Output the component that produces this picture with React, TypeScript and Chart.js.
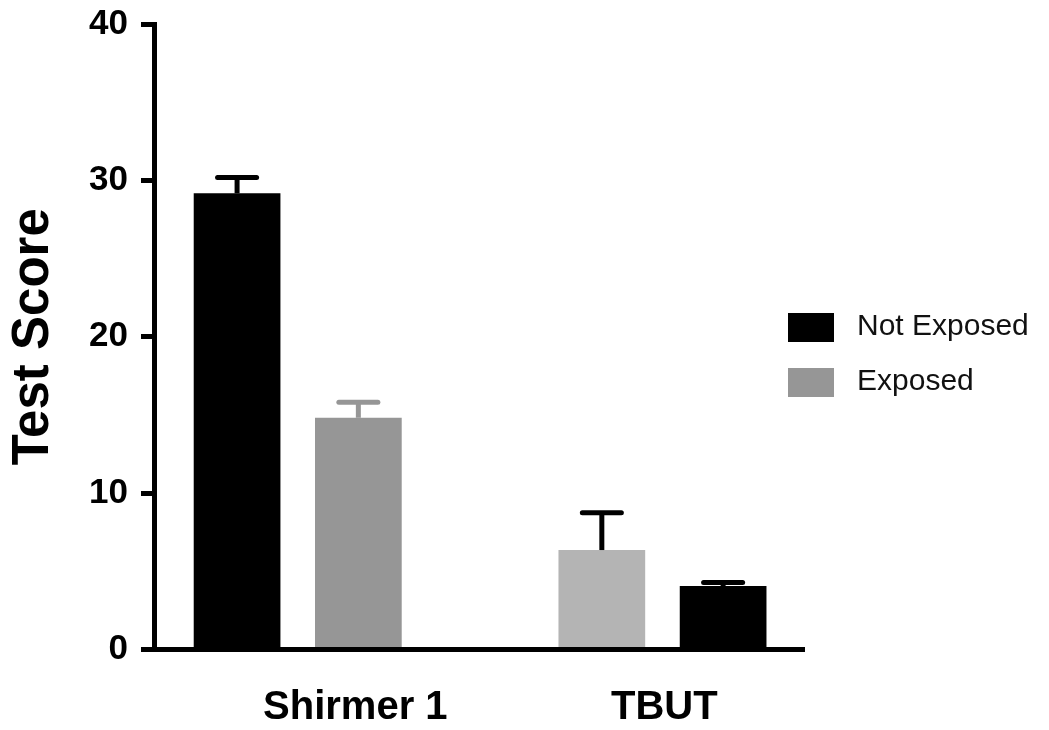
import React, { useEffect, useRef } from 'react';
import { Chart, registerables } from 'chart.js';

Chart.register(...registerables);

// ---- data ----
const categories = ['Shirmer 1', 'TBUT'];
const seriesNames = ['Not Exposed', 'Exposed'];
const notExposedValues = [29.17, 6.36];
const notExposedErrors = [1.02, 2.39];
const exposedValues = [14.82, 4.06];
const exposedErrors = [0.99, 0.23];
const yTickValues = [0, 10, 20, 30, 40];

// ---- styles ----
const FONT = '"Liberation Sans", Arial, Helvetica, sans-serif';
const notExposedColors = ['#000000', '#b4b4b4'];
const exposedColors = ['#969696', '#000000'];
const notExposedErrColors = ['#000000', '#000000'];
const exposedErrColors = ['#969696', '#000000'];
const X_MIN = -0.394;
const X_MAX = 1.388;
const labelPositions = [0.158, 1.005];

const errorBarPlugin = {
  id: 'errorBars',
  afterDatasetsDraw(chart: any) {
    const ctx = chart.ctx;
    const yScale = chart.scales.y;
    chart.data.datasets.forEach((ds: any, di: number) => {
      const meta = chart.getDatasetMeta(di);
      meta.data.forEach((bar: any, i: number) => {
        const v = ds.data[i].y;
        const e = ds.errors[i];
        const yTop = yScale.getPixelForValue(v + e);
        const x = bar.x;
        const y0 = bar.y;
        const half = bar.width * 0.225;
        ctx.save();
        ctx.strokeStyle = ds.errorColors[i];
        ctx.lineWidth = 5;
        ctx.lineCap = 'butt';
        ctx.beginPath();
        ctx.moveTo(x, y0);
        ctx.lineTo(x, yTop);
        ctx.stroke();
        ctx.lineCap = 'round';
        ctx.beginPath();
        ctx.moveTo(x - half, yTop);
        ctx.lineTo(x + half, yTop);
        ctx.stroke();
        ctx.restore();
      });
    });
  },
};

const legendPlugin = {
  id: 'sideLegend',
  afterDraw(chart: any) {
    const ctx = chart.ctx;
    const area = chart.chartArea;
    const boxX = area.right - 16;
    let y = area.top + 289;
    ctx.save();
    chart.data.datasets.forEach((ds: any) => {
      ctx.fillStyle = ds.backgroundColor[0];
      ctx.fillRect(boxX, y, 46, 29);
      ctx.fillStyle = '#111111';
      ctx.font = `30px ${FONT}`;
      ctx.textBaseline = 'middle';
      ctx.textAlign = 'left';
      ctx.fillText(ds.label, boxX + 69, y + 14);
      y += 55;
    });
    ctx.restore();
  },
};

export default function App() {
  const canvasRef = useRef<HTMLCanvasElement | null>(null);

  useEffect(() => {
    if (!canvasRef.current) return;
    const chart = new Chart(canvasRef.current, {
      type: 'bar',
      data: {
        datasets: [
          {
            label: seriesNames[0],
            data: notExposedValues.map((v, i) => ({ x: i, y: v })),
            backgroundColor: notExposedColors,
            errors: notExposedErrors,
            errorColors: notExposedErrColors,
            borderWidth: 0,
          } as any,
          {
            label: seriesNames[1],
            data: exposedValues.map((v, i) => ({ x: i, y: v })),
            backgroundColor: exposedColors,
            errors: exposedErrors,
            errorColors: exposedErrColors,
            borderWidth: 0,
          } as any,
        ],
      },
      options: {
        responsive: false,
        animation: false,
        devicePixelRatio: 1,
        categoryPercentage: 0.665,
        barPercentage: 0.715,
        layout: { padding: { top: 24, bottom: 2.5, left: 0, right: 245 } },
        plugins: {
          legend: { display: false },
          tooltip: { enabled: false },
        },
        scales: {
          x: {
            type: 'linear',
            display: false,
            min: X_MIN,
            max: X_MAX,
            offset: false,
            grid: { offset: false },
            afterBuildTicks: (s: any) => {
              s.ticks = categories.map((_, i) => ({ value: i }));
            },
          },
          x2: {
            type: 'linear',
            position: 'bottom',
            min: X_MIN,
            max: X_MAX,
            offset: false,
            grid: { display: false, drawTicks: false },
            border: { display: true, width: 5, color: '#000000', z: 1 },
            afterBuildTicks: (s: any) => {
              s.ticks = labelPositions.map((v) => ({ value: v }));
            },
            afterFit: (s: any) => {
              s.height = 78;
              s.paddingLeft = 0;
              s.paddingRight = 0;
            },
            ticks: {
              autoSkip: false,
              maxRotation: 0,
              minRotation: 0,
              padding: 38,
              color: '#000000',
              font: { family: FONT, size: 40, weight: 'bold', lineHeight: 1 },
              callback: (_v: any, i: number) => categories[i],
            },
          },
          y: {
            type: 'linear',
            min: 0,
            max: 40,
            afterBuildTicks: (s: any) => {
              s.ticks = yTickValues.map((v) => ({ value: v }));
            },
            afterFit: (s: any) => {
              s.width = 154;
              s.paddingTop = 0;
              s.paddingBottom = 0;
            },
            grid: {
              drawOnChartArea: false,
              drawTicks: true,
              tickLength: 13,
              tickWidth: 5,
              tickColor: '#000000',
              color: '#000000',
              lineWidth: 5,
            },
            border: { display: true, width: 5, color: '#000000', z: 1 },
            ticks: {
              padding: 13,
              color: '#000000',
              font: { family: FONT, size: 35, weight: 'bold' },
              callback: (v: any) => String(v),
            },
            title: {
              display: true,
              text: 'Test Score',
              color: '#000000',
              font: { family: FONT, size: 51, weight: 'bold' },
              padding: { top: 3.4, bottom: 0 },
            },
          },
        },
      } as any,
      plugins: [errorBarPlugin, legendPlugin],
    });
    return () => chart.destroy();
  }, []);

  return (
    <div style={{ position: 'absolute', left: 0, top: 0, width: 1049, height: 730, background: '#ffffff' }}>
      <canvas ref={canvasRef} width={1049} height={730} style={{ display: 'block' }} />
    </div>
  );
}
